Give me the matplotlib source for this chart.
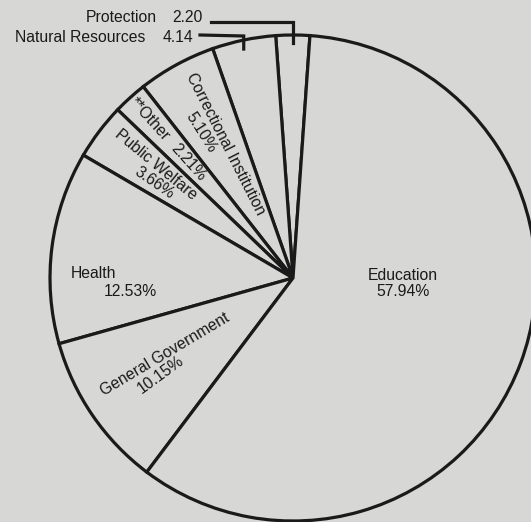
import numpy as np
import matplotlib
matplotlib.use("Agg")
import matplotlib.pyplot as plt

# ---- data (counterclockwise order starting at the top) ----
categories = ["Protection", "Natural Resources", "Correctional Institution", "**Other",
              "Public Welfare", "Health", "General Government", "Education"]
values = [2.20, 4.14, 5.10, 2.21, 3.66, 12.53, 10.15, 57.94]
pct_labels = ["2.20", "4.14", "5.10%", "2.21%", "3.66%", "12.53%", "10.15%", "57.94%"]

BG = "#d7d7d5"
INK = "#1a1a1a"
W, H = 531, 522

plt.rcParams['font.family'] = ['Liberation Sans', 'DejaVu Sans']

fig = plt.figure(figsize=(W / 100, H / 100), dpi=100, facecolor=BG)
ax = fig.add_axes([0, 0, 1, 1])
ax.set_facecolor(BG)

cx, cy = 293, H - 278
R = 243
wedges, _ = ax.pie(values, startangle=86, counterclock=True, center=(cx, cy), radius=R,
                   wedgeprops=dict(facecolor=BG, edgecolor=INK, linewidth=2.3))
ax.set_xlim(0, W)
ax.set_ylim(0, H)
ax.set_aspect('equal')
ax.axis('off')

FS = 11.3


def txt(x, y, s, rot=0, ha='center', fs=FS):
    ax.text(x, H - y, s, rotation=rot, ha=ha, va='center', fontsize=fs, color=INK,
            rotation_mode='anchor')


def mid(w):
    return (w.theta1 + w.theta2) / 2


def polar_txt(w, dth, r, s, fs=FS):
    a = mid(w) + dth
    x = cx + r * np.cos(np.deg2rad(a))
    y = cy + r * np.sin(np.deg2rad(a))
    ax.text(x, y, s, rotation=a - 180, ha='center', va='center', fontsize=fs,
            color=INK, rotation_mode='anchor')


# Large slices: horizontal labels
txt(403, 275, categories[7])
txt(403, 292, pct_labels[7])
txt(94, 273, categories[5])
txt(130, 291, pct_labels[5])

# Narrow slices: labels running along the slice
polar_txt(wedges[2], -1.8, 150, categories[2])
polar_txt(wedges[2], 3.6, 172, pct_labels[2])
polar_txt(wedges[3], 0.0, 214, categories[3])
polar_txt(wedges[3], 0.0, 156, pct_labels[3])
polar_txt(wedges[4], -2.4, 178, categories[4])
polar_txt(wedges[4], 2.6, 168, pct_labels[4])
polar_txt(wedges[6], -3.5, 149, categories[6])
polar_txt(wedges[6], 1.8, 164, pct_labels[6])


def rim(w):
    a = np.deg2rad(mid(w))
    return cx + R * np.cos(a), cy + R * np.sin(a)


# Protection
txt(157, 18, categories[0], ha='right')
txt(203, 18, pct_labels[0], ha='right')
px, py = rim(wedges[0])
ax.plot([211, px, px], [H - 22, H - 22, py - 8], color=INK, lw=2.3,
        solid_joinstyle='miter', clip_on=False)

# Natural Resources
txt(145, 38, categories[1], ha='right')
txt(193, 38, pct_labels[1], ha='right')
nx, ny = rim(wedges[1])
ax.plot([200, nx, nx], [H - 35, H - 36, ny - 9], color=INK, lw=2.3,
        solid_joinstyle='miter', clip_on=False)

fig.savefig("out.png", dpi=100, facecolor=BG)
